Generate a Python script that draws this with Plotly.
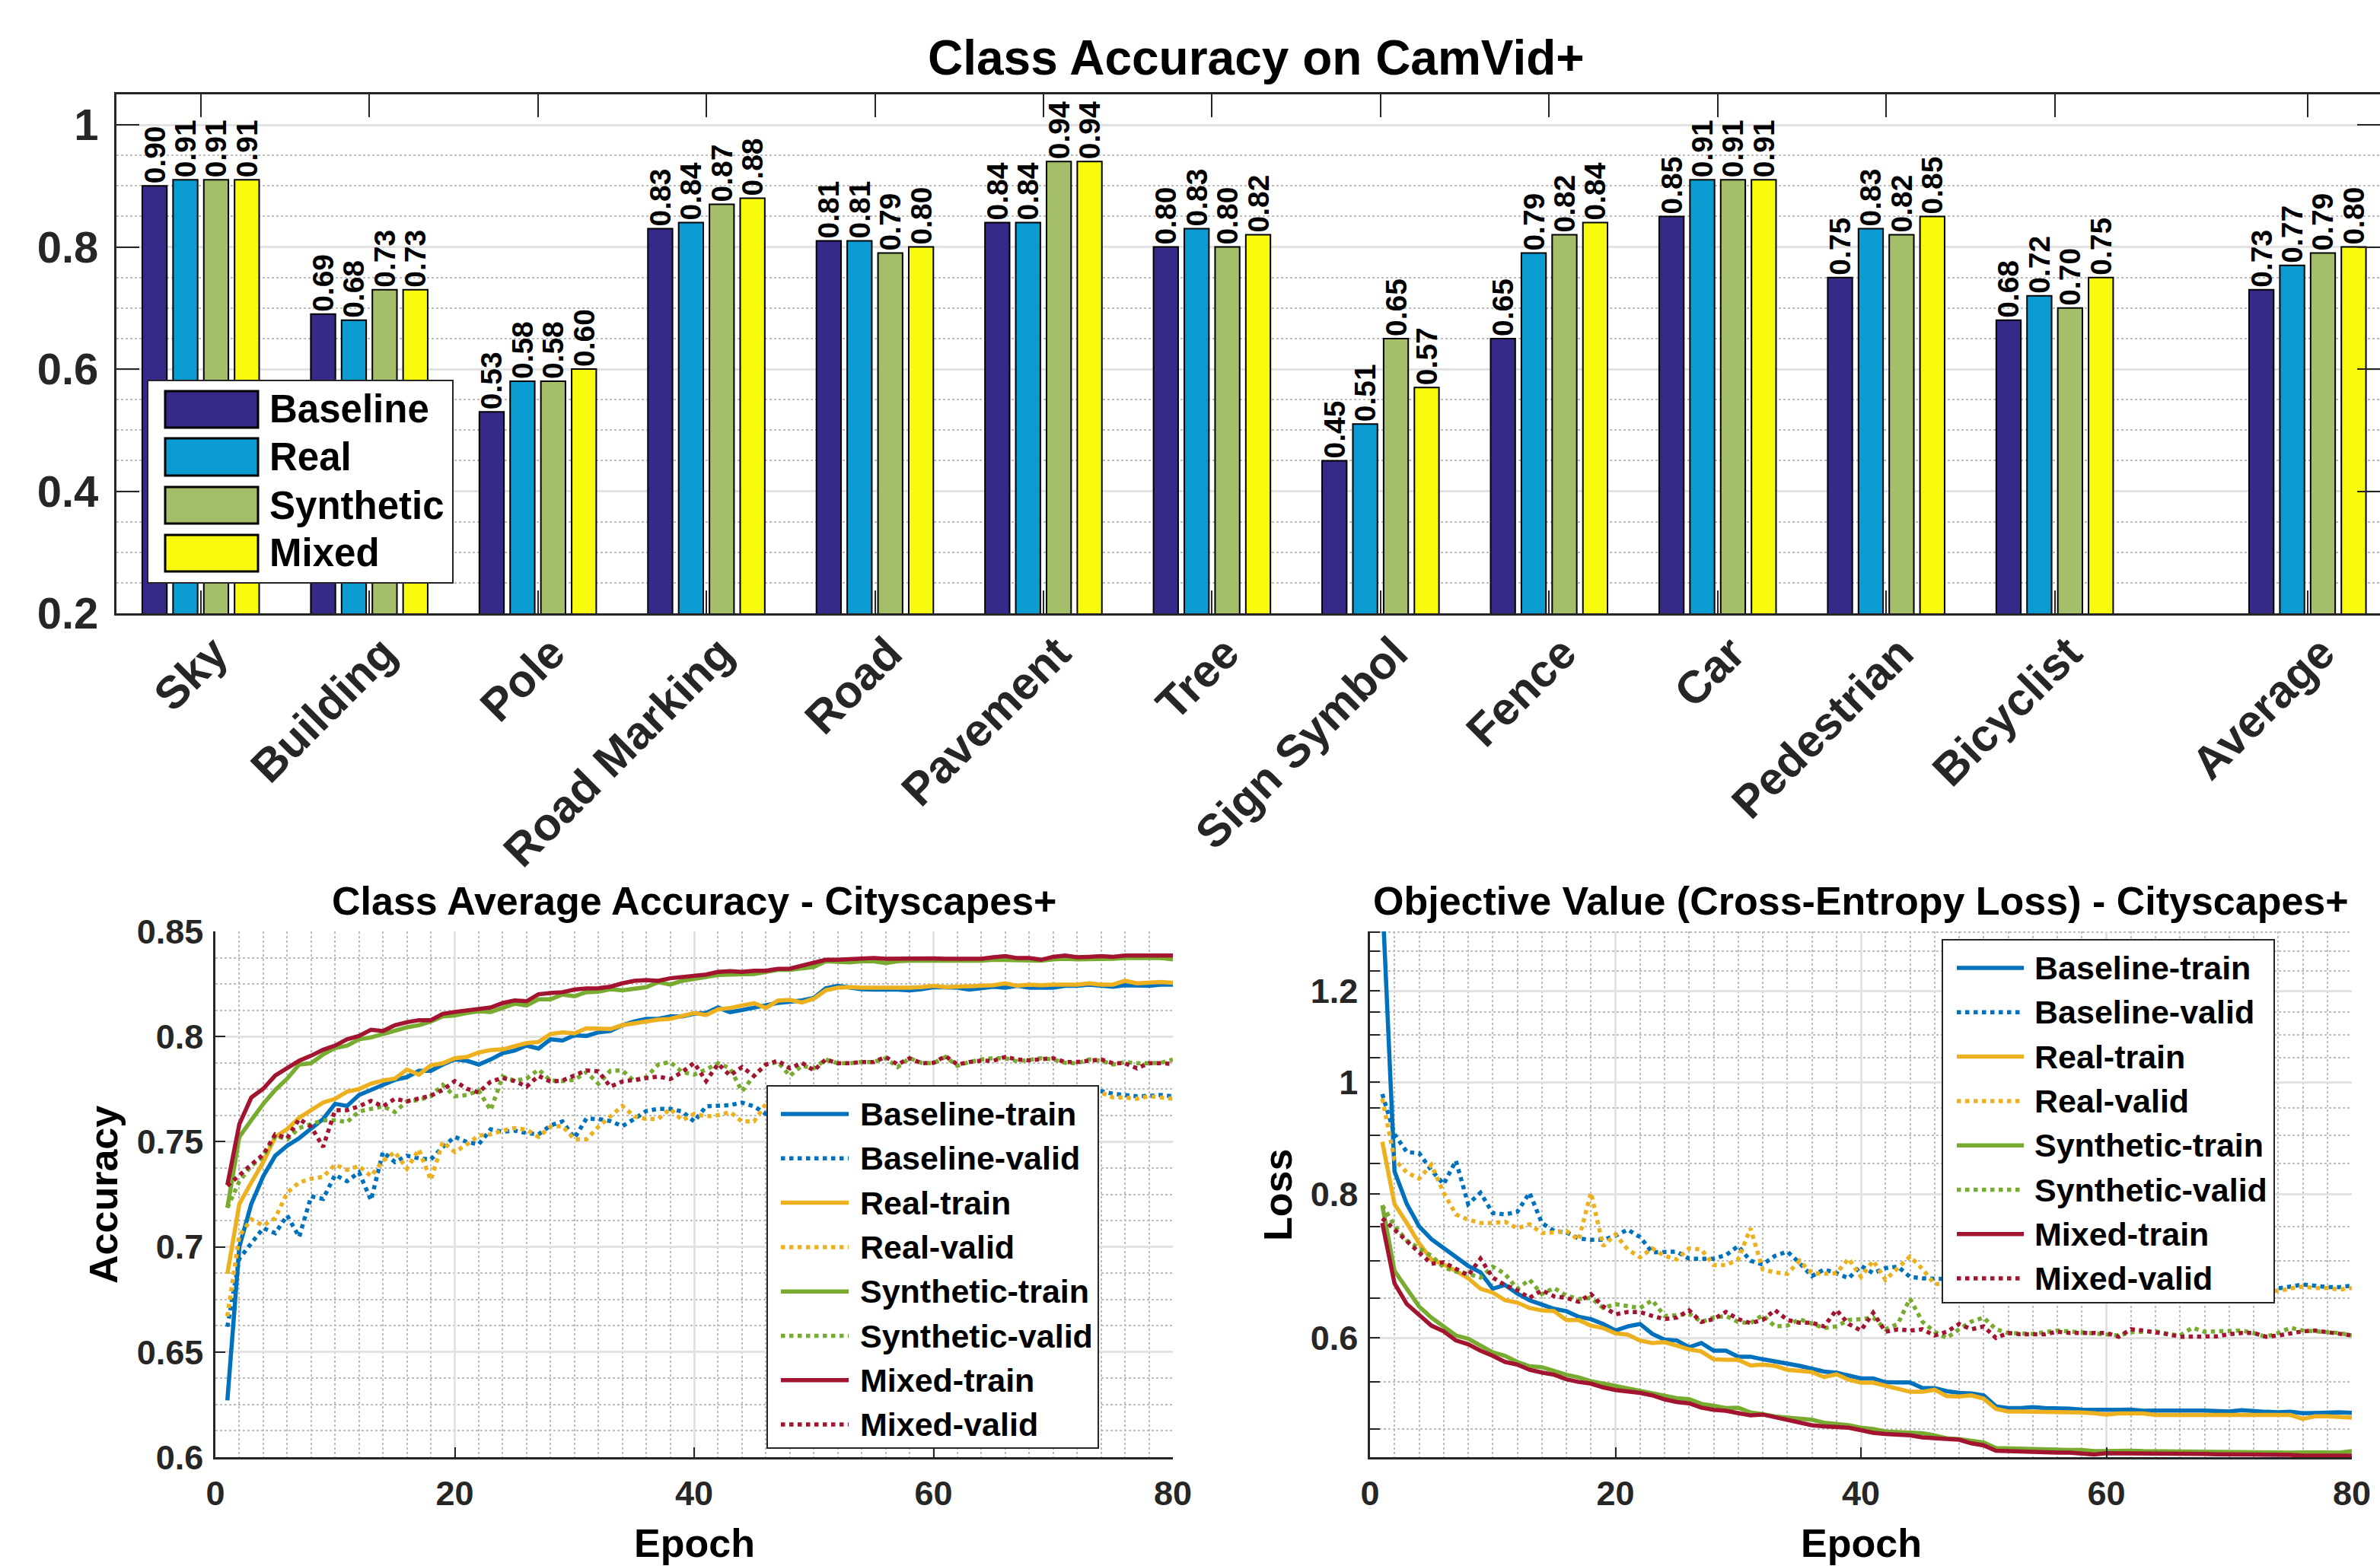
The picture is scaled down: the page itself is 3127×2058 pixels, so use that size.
import plotly.graph_objects as go

W, H = 3127, 2058
FONT = "Liberation Sans, Arial, Helvetica, sans-serif"
AX = "#262626"

# ---------------- Top bar chart data ----------------
categories = ["Sky", "Building", "Pole", "Road Marking", "Road", "Pavement", "Tree",
              "Sign Symbol", "Fence", "Car", "Pedestrian", "Bicyclist", "Average"]
cat_pos = [1, 2, 3, 4, 5, 6, 7, 8, 9, 10, 11, 12, 13.5]
bar_baseline = [0.90, 0.69, 0.53, 0.83, 0.81, 0.84, 0.80, 0.45, 0.65, 0.85, 0.75, 0.68, 0.73]
bar_real = [0.91, 0.68, 0.58, 0.84, 0.81, 0.84, 0.83, 0.51, 0.79, 0.91, 0.83, 0.72, 0.77]
bar_synthetic = [0.91, 0.73, 0.58, 0.87, 0.79, 0.94, 0.80, 0.65, 0.82, 0.91, 0.82, 0.70, 0.79]
bar_mixed = [0.91, 0.73, 0.60, 0.88, 0.80, 0.94, 0.82, 0.57, 0.84, 0.91, 0.85, 0.75, 0.80]
bar_series = ["Baseline", "Real", "Synthetic", "Mixed"]
bar_colors = ["#352A87", "#0A9BD0", "#A5BE6A", "#F9FB0E"]

# ---------------- Accuracy curves (Cityscapes+) ----------------
epochs = list(range(1, 81))
acc_baseline_train = [
    0.627, 0.700, 0.7204, 0.7336, 0.7433, 0.7481, 0.7517, 0.756, 0.7608, 0.768,
    0.767, 0.7722, 0.7746, 0.777, 0.7794, 0.7807, 0.7837, 0.7837, 0.7867, 0.7891,
    0.7885, 0.7867, 0.7891, 0.7921, 0.7933, 0.7957, 0.7943, 0.7987, 0.7981, 0.8006,
    0.8003, 0.802, 0.8027, 0.8054, 0.8072, 0.8084, 0.8084, 0.8096, 0.8096, 0.8108,
    0.8112, 0.8138, 0.8116, 0.8126, 0.8138, 0.8153, 0.816, 0.8165, 0.8172, 0.8184,
    0.8229, 0.8241, 0.8232, 0.8225, 0.8223, 0.8225, 0.8223, 0.822, 0.8225, 0.8235,
    0.8232, 0.8232, 0.8223, 0.8232, 0.8237, 0.8232, 0.8241, 0.8232, 0.8232, 0.8232,
    0.8241, 0.8241, 0.8247, 0.8244, 0.8237, 0.8244, 0.8241, 0.8241, 0.8247, 0.8247]
acc_baseline_valid = [
    0.662, 0.6944, 0.7017, 0.7089, 0.7065, 0.7149, 0.7047, 0.724, 0.7228, 0.7342,
    0.7312, 0.7354, 0.7222, 0.7451, 0.7403, 0.7433, 0.7421, 0.7415, 0.7475, 0.7523,
    0.7499, 0.7487, 0.7559, 0.7547, 0.7553, 0.7541, 0.7535, 0.7577, 0.7596, 0.7517,
    0.761, 0.7608, 0.7598, 0.7574, 0.7608, 0.7646, 0.7656, 0.7656, 0.7644, 0.7596,
    0.7668, 0.767, 0.7674, 0.7686, 0.7668, 0.7632, 0.7675, 0.769, 0.7695, 0.7688,
    0.7705, 0.772, 0.7712, 0.7718, 0.7715, 0.7722, 0.7725, 0.772, 0.7728, 0.773,
    0.7722, 0.7726, 0.7732, 0.7728, 0.7735, 0.773, 0.7734, 0.7738, 0.7732, 0.7739,
    0.7742, 0.7736, 0.7745, 0.774, 0.7728, 0.7722, 0.7716, 0.7718, 0.7722, 0.7716]
acc_real_train = [
    0.6872, 0.7204, 0.7306, 0.7403, 0.7523, 0.756, 0.7614, 0.765, 0.7686, 0.7704,
    0.7738, 0.775, 0.7776, 0.7791, 0.78, 0.7843, 0.7819, 0.7863, 0.7873, 0.7897,
    0.7903, 0.7924, 0.7936, 0.7939, 0.7955, 0.7969, 0.7974, 0.8012, 0.802, 0.8015,
    0.8039, 0.8036, 0.8036, 0.8054, 0.8063, 0.8072, 0.808, 0.8084, 0.81, 0.8112,
    0.8102, 0.8129, 0.8136, 0.8147, 0.8159, 0.8136, 0.8171, 0.8174, 0.8162, 0.818,
    0.822, 0.8232, 0.8235, 0.8232, 0.8232, 0.8229, 0.8232, 0.8232, 0.8235, 0.8241,
    0.8235, 0.8237, 0.8237, 0.8241, 0.8244, 0.8253, 0.8241, 0.8247, 0.8244, 0.8247,
    0.8247, 0.8247, 0.8253, 0.8247, 0.8247, 0.8265, 0.8253, 0.8256, 0.8259, 0.8256]
acc_real_valid = [
    0.667, 0.7053, 0.7131, 0.7101, 0.7137, 0.7258, 0.7306, 0.7324, 0.7333, 0.7391,
    0.7366, 0.7385, 0.7336, 0.7409, 0.7451, 0.7372, 0.7463, 0.7318, 0.7499, 0.7451,
    0.7487, 0.7529, 0.7535, 0.7553, 0.7565, 0.7557, 0.7523, 0.7571, 0.7574, 0.7511,
    0.7511, 0.7571, 0.762, 0.767, 0.762, 0.7608, 0.7608, 0.7656, 0.7602, 0.7632,
    0.762, 0.7626, 0.7641, 0.7596, 0.7596, 0.768, 0.7685, 0.769, 0.7695, 0.769,
    0.7705, 0.7715, 0.771, 0.7712, 0.7708, 0.7715, 0.772, 0.7712, 0.7718, 0.7722,
    0.7715, 0.7718, 0.7725, 0.772, 0.7728, 0.7722, 0.7725, 0.773, 0.7728, 0.7735,
    0.7732, 0.7738, 0.7735, 0.7734, 0.771, 0.771, 0.7704, 0.7716, 0.771, 0.7704]
acc_synthetic_train = [
    0.7186, 0.7523, 0.7602, 0.768, 0.7746, 0.780, 0.7867, 0.7873, 0.7915, 0.7945,
    0.7957, 0.7987, 0.7996, 0.8012, 0.803, 0.8044, 0.8054, 0.8072, 0.8096, 0.810,
    0.8112, 0.812, 0.8117, 0.8138, 0.8156, 0.8148, 0.8177, 0.8177, 0.820, 0.8192,
    0.8211, 0.8213, 0.8225, 0.822, 0.8229, 0.8235, 0.8259, 0.8247, 0.8265, 0.8273,
    0.8281, 0.8293, 0.8295, 0.8295, 0.8297, 0.8307, 0.8317, 0.8317, 0.8322, 0.8331,
    0.8358, 0.8355, 0.8353, 0.8358, 0.8358, 0.8349, 0.8358, 0.8361, 0.8361, 0.8358,
    0.8358, 0.8361, 0.8361, 0.8361, 0.8365, 0.8365, 0.8365, 0.8365, 0.8361, 0.8367,
    0.837, 0.8367, 0.8367, 0.837, 0.837, 0.8373, 0.8373, 0.8373, 0.8373, 0.8367]
acc_synthetic_valid = [
    0.7186, 0.7312, 0.7385, 0.7427, 0.7529, 0.7511, 0.7565, 0.7581, 0.7602, 0.7602,
    0.7593, 0.7644, 0.7656, 0.7668, 0.7641, 0.7692, 0.7698, 0.7716, 0.777, 0.7716,
    0.7722, 0.7743, 0.765, 0.781, 0.7791, 0.78, 0.7843, 0.7791, 0.7788, 0.7794,
    0.7831, 0.7776, 0.7837, 0.7839, 0.7788, 0.7807, 0.7867, 0.7879, 0.7831, 0.7819,
    0.7843, 0.7873, 0.7849, 0.774, 0.7813, 0.7867, 0.7879, 0.7813, 0.7861, 0.7849,
    0.7891, 0.7873, 0.7873, 0.7879, 0.7879, 0.7897, 0.7855, 0.7897, 0.7875, 0.7873,
    0.7903, 0.7861, 0.7879, 0.7891, 0.7897, 0.7897, 0.7882, 0.7891, 0.7897, 0.7891,
    0.7875, 0.7873, 0.7891, 0.7885, 0.7867, 0.7879, 0.7873, 0.7873, 0.7875, 0.7891]
acc_mixed_train = [
    0.7294, 0.7583, 0.771, 0.7752, 0.7815, 0.7849, 0.7885, 0.7909, 0.7937, 0.7957,
    0.7987, 0.8003, 0.8032, 0.8026, 0.8054, 0.8068, 0.8078, 0.8078, 0.8108, 0.8117,
    0.8123, 0.813, 0.8138, 0.8159, 0.8172, 0.8168, 0.8201, 0.8207, 0.8211, 0.8223,
    0.8229, 0.823, 0.8237, 0.8253, 0.8265, 0.8268, 0.8265, 0.8277, 0.8283, 0.8289,
    0.8295, 0.8307, 0.8311, 0.8307, 0.8313, 0.8313, 0.8322, 0.8323, 0.8337, 0.8346,
    0.8365, 0.8365, 0.8367, 0.8373, 0.8373, 0.837, 0.8371, 0.8373, 0.8373, 0.8372,
    0.837, 0.8371, 0.837, 0.837, 0.8377, 0.8382, 0.8373, 0.8373, 0.8365, 0.8379,
    0.8385, 0.8377, 0.8379, 0.8382, 0.8379, 0.8385, 0.8385, 0.8385, 0.8385, 0.8385]
acc_mixed_valid = [
    0.729, 0.7342, 0.7391, 0.7439, 0.7535, 0.7517, 0.7608, 0.7571, 0.7475, 0.765,
    0.765, 0.7668, 0.7694, 0.7668, 0.7704, 0.7692, 0.7704, 0.7719, 0.7746, 0.7788,
    0.7752, 0.7734, 0.7786, 0.7803, 0.7788, 0.7762, 0.7813, 0.7786, 0.7791, 0.7813,
    0.7839, 0.7834, 0.7762, 0.7786, 0.7794, 0.7807, 0.781, 0.7798, 0.7831, 0.7875,
    0.7788, 0.787, 0.7815, 0.7855, 0.7813, 0.7867, 0.7885, 0.7849, 0.7875, 0.7839,
    0.7891, 0.7873, 0.7873, 0.7879, 0.7879, 0.7903, 0.7867, 0.7897, 0.7873, 0.7875,
    0.7907, 0.7867, 0.7879, 0.7885, 0.7885, 0.7903, 0.7891, 0.7887, 0.7891, 0.7897,
    0.7879, 0.7879, 0.7885, 0.7891, 0.7873, 0.7873, 0.7849, 0.7873, 0.7873, 0.787]

# ---------------- Loss curves (Cityscapes+) ----------------
loss_baseline_train = [
    1.45, 0.837, 0.784, 0.750, 0.731, 0.718, 0.707, 0.693, 0.684, 0.662,
    0.667, 0.6557, 0.647, 0.642, 0.636, 0.633, 0.626, 0.623, 0.617, 0.609,
    0.614, 0.617, 0.605, 0.598, 0.597, 0.589, 0.594, 0.585, 0.585, 0.578,
    0.578, 0.575, 0.573, 0.570, 0.5675, 0.564, 0.561, 0.5598, 0.5562, 0.5534,
    0.5534, 0.5492, 0.549, 0.549, 0.543, 0.5427, 0.5395, 0.5376, 0.537, 0.535,
    0.5234, 0.5216, 0.5216, 0.5225, 0.5216, 0.5216, 0.521, 0.52, 0.5197, 0.519,
    0.5197, 0.52, 0.5188, 0.519, 0.5193, 0.5193, 0.519, 0.519, 0.5185, 0.518,
    0.5193, 0.518, 0.5177, 0.5172, 0.5177, 0.5162, 0.5168, 0.5172, 0.5172, 0.5166]
loss_baseline_valid = [
    0.977, 0.901, 0.870, 0.868, 0.839, 0.816, 0.855, 0.784, 0.802, 0.770,
    0.768, 0.772, 0.802, 0.755, 0.743, 0.741, 0.732, 0.730, 0.730, 0.736,
    0.745, 0.734, 0.712, 0.713, 0.713, 0.703, 0.703, 0.703, 0.708, 0.721,
    0.700, 0.695, 0.707, 0.713, 0.697, 0.679, 0.688, 0.683, 0.676, 0.693,
    0.683, 0.690, 0.692, 0.678, 0.676, 0.676, 0.675, 0.672, 0.674, 0.671,
    0.673, 0.670, 0.672, 0.669, 0.671, 0.668, 0.670, 0.668, 0.669, 0.667,
    0.669, 0.666, 0.668, 0.667, 0.665, 0.667, 0.666, 0.668, 0.665, 0.667,
    0.666, 0.664, 0.666, 0.6625, 0.6649, 0.6676, 0.666, 0.6643, 0.6643, 0.666]
loss_real_train = [
    0.888, 0.784, 0.755, 0.725, 0.702, 0.695, 0.686, 0.676, 0.662, 0.657,
    0.647, 0.644, 0.637, 0.634, 0.633, 0.622, 0.622, 0.615, 0.612, 0.6055,
    0.604, 0.597, 0.594, 0.595, 0.591, 0.5865, 0.584, 0.575, 0.5745, 0.5745,
    0.568, 0.569, 0.5675, 0.563, 0.5619, 0.5605, 0.5549, 0.558, 0.552, 0.5487,
    0.5487, 0.5451, 0.5424, 0.5388, 0.5388, 0.541, 0.5342, 0.5338, 0.535, 0.5315,
    0.5208, 0.518, 0.518, 0.518, 0.5177, 0.5177, 0.5177, 0.517, 0.5162, 0.5149,
    0.516, 0.516, 0.516, 0.5144, 0.5147, 0.515, 0.5144, 0.5144, 0.5144, 0.5144,
    0.5142, 0.514, 0.514, 0.5144, 0.5144, 0.5104, 0.513, 0.513, 0.5125, 0.5117]
loss_real_valid = [
    0.968, 0.857, 0.835, 0.825, 0.848, 0.802, 0.768, 0.760, 0.755, 0.755,
    0.757, 0.747, 0.753, 0.740, 0.741, 0.743, 0.730, 0.802, 0.721, 0.738,
    0.716, 0.705, 0.7176, 0.707, 0.702, 0.7176, 0.716, 0.694, 0.694, 0.702,
    0.747, 0.688, 0.684, 0.682, 0.700, 0.683, 0.682, 0.683, 0.703, 0.678,
    0.700, 0.674, 0.690, 0.706, 0.689, 0.668, 0.670, 0.668, 0.672, 0.669,
    0.671, 0.667, 0.670, 0.666, 0.669, 0.667, 0.668, 0.665, 0.667, 0.666,
    0.664, 0.667, 0.665, 0.666, 0.663, 0.665, 0.664, 0.666, 0.662, 0.665,
    0.663, 0.664, 0.662, 0.659, 0.6625, 0.6649, 0.663, 0.663, 0.661, 0.663]
loss_synthetic_train = [
    0.782, 0.686, 0.662, 0.639, 0.625, 0.614, 0.603, 0.599, 0.591, 0.583,
    0.579, 0.572, 0.567, 0.566, 0.5617, 0.5575, 0.5546, 0.5504, 0.5477, 0.545,
    0.542, 0.5395, 0.5367, 0.534, 0.532, 0.531, 0.526, 0.524, 0.5215, 0.522,
    0.517, 0.5153, 0.5129, 0.5117, 0.5104, 0.5096, 0.5066, 0.5053, 0.504, 0.5015,
    0.5002, 0.4977, 0.497, 0.4964, 0.496, 0.4939, 0.491, 0.4903, 0.4889, 0.4869,
    0.4815, 0.4811, 0.4811, 0.4803, 0.4803, 0.4803, 0.4797, 0.4797, 0.4786, 0.4786,
    0.479, 0.479, 0.4786, 0.4784, 0.4782, 0.478, 0.4778, 0.4778, 0.4776, 0.4778,
    0.4776, 0.4774, 0.4776, 0.4774, 0.4772, 0.4774, 0.4772, 0.477, 0.4772, 0.4786]
loss_synthetic_valid = [
    0.782, 0.751, 0.729, 0.7176, 0.707, 0.691, 0.685, 0.682, 0.677, 0.692,
    0.682, 0.662, 0.674, 0.655, 0.663, 0.653, 0.6485, 0.650, 0.637, 0.642,
    0.639, 0.637, 0.647, 0.627, 0.628, 0.630, 0.6195, 0.625, 0.627, 0.6195,
    0.618, 0.628, 0.614, 0.615, 0.623, 0.617, 0.612, 0.614, 0.622, 0.623,
    0.625, 0.6105, 0.617, 0.649, 0.620, 0.6075, 0.600, 0.6105, 0.620, 0.625,
    0.6105, 0.606, 0.606, 0.605, 0.607, 0.609, 0.608, 0.607, 0.605, 0.6045,
    0.603, 0.607, 0.608, 0.608, 0.605, 0.603, 0.6124, 0.6075, 0.608, 0.608,
    0.609, 0.606, 0.6015, 0.606, 0.6124, 0.609, 0.608, 0.6075, 0.606, 0.603]
loss_mixed_train = [
    0.755, 0.669, 0.642, 0.628, 0.615, 0.608, 0.597, 0.5925, 0.585, 0.579,
    0.572, 0.5689, 0.563, 0.560, 0.5575, 0.5525, 0.5495, 0.5477, 0.5436, 0.5408,
    0.5395, 0.5376, 0.535, 0.5307, 0.528, 0.5266, 0.522, 0.5198, 0.5188, 0.5167,
    0.514, 0.5149, 0.5123, 0.5092, 0.5066, 0.504, 0.5028, 0.502, 0.5015, 0.499,
    0.4964, 0.4952, 0.4945, 0.4939, 0.4919, 0.4914, 0.4903, 0.4896, 0.4861, 0.4841,
    0.479, 0.4786, 0.4778, 0.4771, 0.4771, 0.4771, 0.4771, 0.4766, 0.4754, 0.4766,
    0.4766, 0.4762, 0.4762, 0.4762, 0.476, 0.4762, 0.476, 0.4758, 0.4756, 0.4758,
    0.4754, 0.4754, 0.4752, 0.4752, 0.475, 0.4742, 0.4744, 0.4746, 0.4744, 0.4742]
loss_mixed_valid = [
    0.762, 0.745, 0.729, 0.712, 0.696, 0.698, 0.689, 0.680, 0.703, 0.677,
    0.667, 0.660, 0.650, 0.660, 0.652, 0.650, 0.645, 0.655, 0.639, 0.629,
    0.632, 0.632, 0.627, 0.623, 0.625, 0.634, 0.6195, 0.623, 0.632, 0.623,
    0.618, 0.622, 0.6345, 0.622, 0.6185, 0.6185, 0.614, 0.6345, 0.617, 0.609,
    0.631, 0.6075, 0.6105, 0.609, 0.6105, 0.603, 0.6075, 0.617, 0.6105, 0.614,
    0.600, 0.606, 0.6045, 0.6045, 0.6045, 0.6075, 0.606, 0.606, 0.606, 0.606,
    0.6015, 0.6105, 0.609, 0.607, 0.6045, 0.6015, 0.602, 0.6015, 0.602, 0.6045,
    0.606, 0.606, 0.6015, 0.603, 0.606, 0.608, 0.609, 0.6075, 0.605, 0.603]

line_names = ["Baseline-train", "Baseline-valid", "Real-train", "Real-valid",
              "Synthetic-train", "Synthetic-valid", "Mixed-train", "Mixed-valid"]
line_colors = ["#0072BD", "#0072BD", "#EDB120", "#EDB120",
               "#77AC30", "#77AC30", "#A2142F", "#A2142F"]
line_dash = ["solid", "dot", "solid", "dot", "solid", "dot", "solid", "dot"]
acc_series = [acc_baseline_train, acc_baseline_valid, acc_real_train, acc_real_valid,
              acc_synthetic_train, acc_synthetic_valid, acc_mixed_train, acc_mixed_valid]
loss_series = [loss_baseline_train, loss_baseline_valid, loss_real_train, loss_real_valid,
               loss_synthetic_train, loss_synthetic_valid, loss_mixed_train, loss_mixed_valid]


def px(x):
    return x / W


def py(y):
    return 1 - y / H


fig = go.Figure()

# bars
for name, vals, col in zip(bar_series, [bar_baseline, bar_real, bar_synthetic, bar_mixed], bar_colors):
    fig.add_trace(go.Bar(
        x=cat_pos, y=vals, name=name, marker=dict(color=col, line=dict(color="#000000", width=2)),
        text=[f"{v:.2f}" for v in vals], textposition="outside", textangle=-90,
        textfont=dict(family=FONT, size=39, color="#000000", weight="bold"),
        cliponaxis=False, constraintext="none", showlegend=False,
        xaxis="x", yaxis="y"))

LW = 5.5
for name, ys, col, dash in zip(line_names, acc_series, line_colors, line_dash):
    fig.add_trace(go.Scatter(x=epochs, y=ys, mode="lines", name=name,
                             line=dict(color=col, width=LW, dash=dash),
                             showlegend=False, xaxis="x2", yaxis="y2"))
for name, ys, col, dash in zip(line_names, loss_series, line_colors, line_dash):
    fig.add_trace(go.Scatter(x=epochs, y=ys, mode="lines", name=name,
                             line=dict(color=col, width=LW, dash=dash),
                             showlegend=False, xaxis="x3", yaxis="y3"))

GRID = "#e2e2e2"
MINOR = "#bdbdbd"

top_y = [124, 806]
bot_y = [1224, 1915]

fig.update_layout(
    width=W, height=H, margin=dict(l=0, r=0, t=0, b=0, autoexpand=False),
    paper_bgcolor="white", plot_bgcolor="white",
    font=dict(family=FONT, color=AX),
    barmode="group", bargap=0.27, bargroupgap=0.2,
    showlegend=False,
    xaxis=dict(domain=[px(153), 1.0], range=[0.5, 13.93], anchor="y", automargin=False,
               tickmode="array", tickvals=cat_pos, ticktext=categories, tickangle=-45,
               tickfont=dict(family=FONT, size=60, color=AX, weight="bold"),
               ticks="inside", ticklen=30, tickwidth=2, tickcolor=AX,
               showline=True, linecolor=AX, linewidth=3, mirror="ticks",
               showgrid=False, zeroline=False, ticklabelstandoff=-10, ticklabelshift=18),
    yaxis=dict(domain=[py(top_y[1]), py(top_y[0])], range=[0.2, 1.05], anchor="x", automargin=False,
               tickmode="array", tickvals=[0.2, 0.4, 0.6, 0.8, 1.0],
               ticktext=["0.2", "0.4", "0.6", "0.8", "1"],
               tickfont=dict(family=FONT, size=58, color=AX, weight="bold"),
               ticks="inside", ticklen=30, tickwidth=2, tickcolor=AX,
               showline=True, linecolor=AX, linewidth=3, mirror="ticks",
               showgrid=True, gridcolor=GRID, gridwidth=3, zeroline=False,
               ticklabelstandoff=9,
               minor=dict(tickvals=[0.25, 0.3, 0.35, 0.45, 0.5, 0.55, 0.65, 0.7, 0.75,
                                    0.85, 0.9, 0.95, 1.05],
                          showgrid=True, gridcolor=MINOR, griddash="dot", gridwidth=2, ticks="")),
    xaxis2=dict(domain=[px(283), px(1541)], range=[0, 80], anchor="y2", automargin=False,
                tickmode="array", tickvals=[0, 20, 40, 60, 80],
                tickfont=dict(family=FONT, size=45, color=AX, weight="bold"),
                ticks="inside", ticklen=13, tickwidth=2, tickcolor=AX,
                showline=True, linecolor=AX, linewidth=2.5, mirror=False,
                showgrid=True, gridcolor=GRID, gridwidth=2.5, zeroline=False,
                ticklabelstandoff=6,
                minor=dict(tick0=0, dtick=2, showgrid=True, gridcolor=MINOR,
                           griddash="dot", gridwidth=2, ticks="")),
    yaxis2=dict(domain=[py(bot_y[1]), py(bot_y[0])], range=[0.6, 0.85], anchor="x2", automargin=False,
                tickmode="array", tickvals=[0.6, 0.65, 0.7, 0.75, 0.8, 0.85],
                ticktext=["0.6", "0.65", "0.7", "0.75", "0.8", "0.85"],
                tickfont=dict(family=FONT, size=45, color=AX, weight="bold"),
                ticks="inside", ticklen=13, tickwidth=2, tickcolor=AX,
                showline=True, linecolor=AX, linewidth=2.5, mirror=False,
                showgrid=True, gridcolor=GRID, gridwidth=2.5, zeroline=False,
                ticklabelstandoff=4,
                minor=dict(tick0=0.6, dtick=0.0125, showgrid=True, gridcolor=MINOR,
                           griddash="dot", gridwidth=2, ticks="")),
    xaxis3=dict(domain=[px(1800), px(3090)], range=[0, 80], anchor="y3", automargin=False,
                tickmode="array", tickvals=[0, 20, 40, 60, 80],
                tickfont=dict(family=FONT, size=45, color=AX, weight="bold"),
                ticks="inside", ticklen=13, tickwidth=2, tickcolor=AX,
                showline=True, linecolor=AX, linewidth=2.5, mirror=False,
                showgrid=True, gridcolor=GRID, gridwidth=2.5, zeroline=False,
                ticklabelstandoff=6,
                minor=dict(tick0=0, dtick=2, showgrid=True, gridcolor=MINOR,
                           griddash="dot", gridwidth=2, ticks="")),
    yaxis3=dict(domain=[py(bot_y[1]), py(bot_y[0])], type="log", automargin=False,
                range=[-0.3253, 0.1310], anchor="x3",
                tickmode="array", tickvals=[0.6, 0.8, 1.0, 1.2],
                ticktext=["0.6", "0.8", "1", "1.2"],
                tickfont=dict(family=FONT, size=45, color=AX, weight="bold"),
                ticks="inside", ticklen=13, tickwidth=2, tickcolor=AX,
                showline=True, linecolor=AX, linewidth=2.5, mirror=False,
                showgrid=True, gridcolor=GRID, gridwidth=2.5, zeroline=False,
                ticklabelstandoff=4,
                minor=dict(tickvals=[0.5, 0.55, 0.65, 0.7, 0.75, 0.85, 0.9, 0.95,
                                     1.05, 1.1, 1.15, 1.25, 1.3, 1.35],
                           showgrid=True, gridcolor=MINOR, griddash="dot", gridwidth=2,
                           ticks="inside", ticklen=13, tickcolor=AX)),
)

shapes = []
annotations = []

# ---- top legend (custom) ----
shapes.append(dict(type="rect", xref="paper", yref="paper", layer="above",
                   x0=px(194), x1=px(595), y0=py(766), y1=py(500),
                   fillcolor="white", line=dict(color=AX, width=2)))
leg_rows = [(514, 562), (576, 625), (640, 688), (703, 751)]
for (y0, y1), name, col in zip(leg_rows, bar_series, bar_colors):
    shapes.append(dict(type="rect", xref="paper", yref="paper", layer="above",
                       x0=px(217), x1=px(339), y0=py(y1), y1=py(y0),
                       fillcolor=col, line=dict(color="#000000", width=3)))
    annotations.append(dict(x=px(352), y=py((y0 + y1) / 2), xref="paper", yref="paper",
                            text=name, showarrow=False, xanchor="left", yanchor="middle",
                            font=dict(family=FONT, size=51, color="#000000", weight="bold")))


def line_legend(bx0, bx1, by0, by1, row0, sx0, sx1, tx):
    shapes.append(dict(type="rect", xref="paper", yref="paper", layer="above",
                       x0=px(bx0), x1=px(bx1), y0=py(by1), y1=py(by0),
                       fillcolor="white", line=dict(color=AX, width=2)))
    for i, (name, col, dash) in enumerate(zip(line_names, line_colors, line_dash)):
        yc = row0 + 58.3 * i
        shapes.append(dict(type="line", xref="paper", yref="paper", layer="above",
                           x0=px(sx0), x1=px(sx1), y0=py(yc), y1=py(yc),
                           line=dict(color=col, width=LW, dash=dash)))
        annotations.append(dict(x=px(tx), y=py(yc), xref="paper", yref="paper",
                                text=name, showarrow=False, xanchor="left", yanchor="middle",
                                font=dict(family=FONT, size=43, color="#000000", weight="bold")))


line_legend(1008, 1443, 1427, 1903, 1464, 1026, 1115, 1128)
line_legend(2552, 2988, 1235, 1712, 1272, 2571, 2659, 2671)


def ann(text, x, y, size, angle=0):
    annotations.append(dict(x=px(x), y=py(y), xref="paper", yref="paper", text=text,
                            showarrow=False, xanchor="center", yanchor="middle", textangle=angle,
                            font=dict(family=FONT, size=size, color="#000000", weight="bold")))


ann("Class Accuracy on CamVid+", 1650, 76, 64)
ann("Class Average Accuracy - Cityscapes+", 912, 1184, 52)
ann("Objective Value (Cross-Entropy Loss) - Cityscapes+", 2445, 1184, 52)
ann("Epoch", 912, 2028, 52)
ann("Epoch", 2445, 2028, 52)
ann("Accuracy", 136, 1570, 52, -90)
ann("Loss", 1679, 1570, 52, -90)

fig.update_layout(shapes=shapes, annotations=annotations)
fig.write_html("out.html", config={"displayModeBar": False}, post_script=(
    "document.body.style.margin='0';document.body.style.padding='0';"
    "document.body.style.overflow='hidden';document.documentElement.style.overflow='hidden';"))
